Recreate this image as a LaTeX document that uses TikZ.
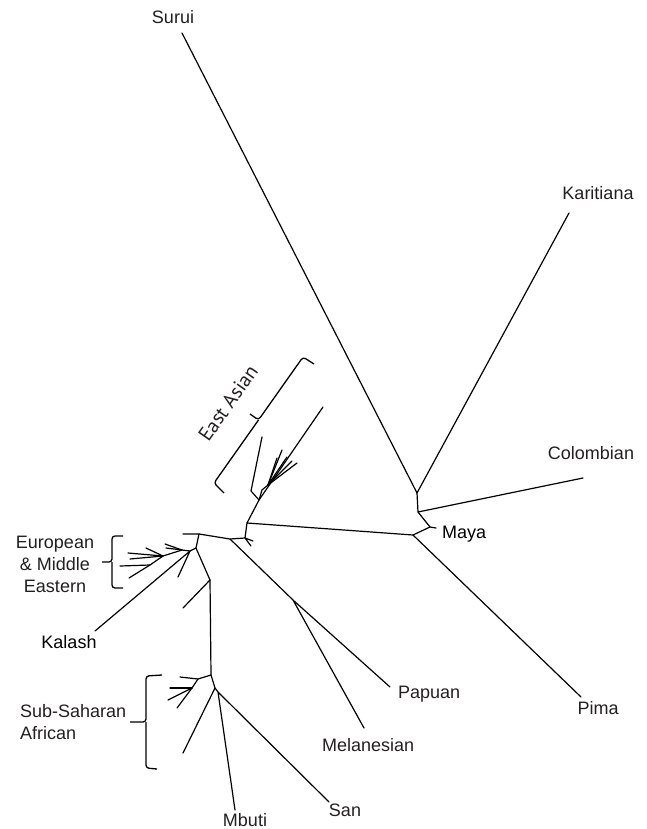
\documentclass[tikz,border=0pt]{standalone}
\usepackage{fontspec}
\setmainfont{Liberation Sans}
\newfontfamily\eastfont{PT Sans}
\usetikzlibrary{positioning}
\definecolor{labelgray}{HTML}{231F20}

\begin{document}
\begin{tikzpicture}[x=1pt, y=-1pt,
    every node/.style={
        font=\fontsize{18}{22}\selectfont,
        text=labelgray,
        inner sep=0pt},
    branch/.style={line width=1.2pt, line cap=round, line join=round},
    bracket/.style={line width=1.3pt, rounded corners=3pt},
    tiplabel/.style={text height=12.8pt, text depth=0pt}]
    \useasboundingbox (0,0) rectangle (647,829);

    % inner nodes of the tree
    \coordinate (ka) at (417,493);
    \coordinate (co) at (418,512);
    \coordinate (my) at (430,527);
    \coordinate (pm) at (413,535);
    \coordinate (ea0) at (247,523);
    \coordinate (tk) at (245,538);
    \coordinate (pp) at (230,539);
    \coordinate (root) at (199,534);
    \coordinate (eu0) at (196,548);
    \coordinate (kal) at (190,551);
    \coordinate (eu1) at (182,550);
    \coordinate (eu2) at (163,556);
    \coordinate (eu3) at (150,565);
    \coordinate (af0) at (210,580);
    \coordinate (af1) at (211,675);
    \coordinate (af2) at (198,679);
    \coordinate (af3) at (192,688);
    \coordinate (af4) at (215,688);
    \coordinate (af5) at (218,692);
    \coordinate (pmel) at (293,600);
    \coordinate (ea1) at (259,500);
    \coordinate (ea2) at (251,491);
    \coordinate (ea3) at (262,490);
    \coordinate (ea4) at (268,485);

    % tips
    \coordinate (surui) at (182,33);
    \coordinate (karitiana) at (569,213);
    \coordinate (colombian) at (583,478);
    \coordinate (maya) at (436,528);
    \coordinate (pima) at (581,697);
    \coordinate (papuan) at (390,687);
    \coordinate (melanesian) at (364,728);
    \coordinate (san) at (329,802);
    \coordinate (mbuti) at (235,810);
    \coordinate (kalash) at (95,631);
    \coordinate (rt1) at (183,534);
    \coordinate (tk1) at (253,541);
    \coordinate (tk2) at (251,546);
    \coordinate (eu1a) at (165,544);
    \coordinate (eu1b) at (166,548);
    \coordinate (eu2a) at (146,548);
    \coordinate (eu2b) at (128,553);
    \coordinate (eu2c) at (130,559);
    \coordinate (eu3a) at (120,566);
    \coordinate (eu3b) at (129,578);
    \coordinate (kal1) at (178,577);
    \coordinate (af0a) at (183,608);
    \coordinate (af2a) at (180,677);
    \coordinate (af3a) at (170,688);
    \coordinate (af3b) at (168,700);
    \coordinate (af3c) at (177,708);
    \coordinate (af4a) at (183,753);
    \coordinate (ea1a) at (323,407);
    \coordinate (ea2a) at (262,437);
    \coordinate (ea4a) at (282,450);
    \coordinate (ea4b) at (287,457);
    \coordinate (ea4c) at (292,461);
    \coordinate (ea4d) at (297,463);
    \coordinate (ea4e) at (277,458);

    \draw[branch] (surui) -- (ka) -- (karitiana);
    \draw[branch] (ka) -- (co) -- (colombian);
    \draw[branch] (co) -- (my) -- (maya);
    \draw[branch] (my) -- (pm) -- (pima);
    \draw[branch] (pm) -- (ea0) -- (tk) -- (pp) -- (root) -- (rt1);
    \draw[branch] (tk) -- (tk1) (tk) -- (tk2);
    \draw[branch] (pp) -- (pmel) -- (papuan) (pmel) -- (melanesian);
    \draw[branch] (ea0) -- (ea1) -- (ea1a);
    \draw[branch] (ea1) -- (ea2) -- (ea2a);
    \draw[branch] (ea1) -- (ea3) -- (ea4);
    \foreach \t in {ea4a, ea4b, ea4c, ea4d, ea4e}
        \draw[branch] (ea4) -- (\t);
    \draw[branch] (root) -- (eu0) -- (kal) -- (eu1) -- (eu2) -- (eu3);
    \draw[branch] (kal) -- (kalash) (kal) -- (kal1);
    \foreach \t in {eu1a, eu1b}
        \draw[branch] (eu1) -- (\t);
    \foreach \t in {eu2a, eu2b, eu2c}
        \draw[branch] (eu2) -- (\t);
    \foreach \t in {eu3a, eu3b}
        \draw[branch] (eu3) -- (\t);
    \draw[branch] (eu0) -- (af0) -- (af0a);
    \draw[branch] (af0) -- (af1) -- (af2) -- (af2a);
    \draw[branch] (af2) -- (af3);
    \foreach \t in {af3a, af3b, af3c}
        \draw[branch] (af3) -- (\t);
    \draw[branch] (af1) -- (af4) -- (af4a);
    \draw[branch] (af4) -- (af5) -- (mbuti) (af5) -- (san);

    % brackets
    \draw[bracket] (314,364) -- (303,357) -- (258.5,420) -- (250,414);
    \draw[bracket] (258.5,420) -- (214,483) -- (224,493);
    \draw[bracket] (123,536) -- (112,536) -- (112,562) -- (102,562);
    \draw[bracket] (112,562) -- (112,588) -- (123,588);
    \draw[bracket] (162,675) -- (146,676) -- (146,722) -- (130,722);
    \draw[bracket] (146,722) -- (146,768) -- (157,769);

    % labels
    \node[tiplabel] (surui-lbl) at (173,17) {Surui};
    \node[tiplabel] (karitiana-lbl) at (598,193) {Karitiana};
    \node[tiplabel] (colombian-lbl) at (591,453) {Colombian};
    \node[tiplabel, anchor=west, text=black] (maya-lbl) at (442,532) {Maya};
    \node[tiplabel] (pima-lbl) at (598,708) {Pima};
    \node[tiplabel, anchor=west] (papuan-lbl) at (398,692) {Papuan};
    \node[tiplabel, anchor=west] (melanesian-lbl) at (322,745) {Melanesian};
    \node[tiplabel] (san-lbl) at (345,810) {San};
    \node[tiplabel] (mbuti-lbl) at (245,820) {Mbuti};
    \node[tiplabel, text=black] (kalash-lbl) at (69,642) {Kalash};
    \node[align=center] (europe-lbl) at (55,564) {European\\\& Middle\\Eastern};
    \node[align=left, anchor=west] (africa-lbl) at (20,722) {Sub-Saharan\\African};
    \node[rotate=55, font=\eastfont\fontsize{20}{24}\selectfont] (asia-lbl) at (228,403) {East Asian};
\end{tikzpicture}
\end{document}
